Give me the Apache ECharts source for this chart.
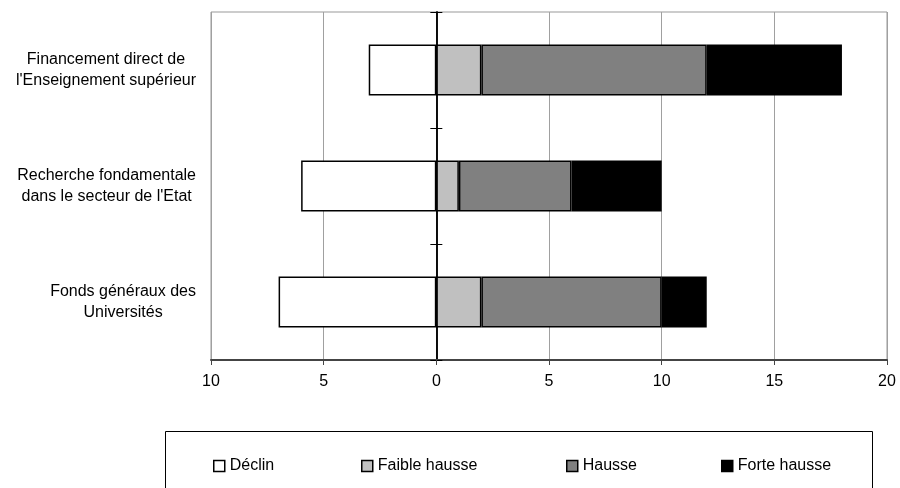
<!DOCTYPE html>
<html>
<head>
<meta charset="UTF-8">
<title>Evolution des financements</title>
<style type="text/css">
  html, body { margin: 0; padding: 0; background: #fff; }
  #chart { width: 900px; height: 488px; }
</style>
</head>
<body>
<div id="chart"></div>
<script src="https://cdn.jsdelivr.net/npm/echarts@6/dist/echarts.min.js"></script>
<script type="text/javascript">
// categories, listed from top to bottom
var categories = [
  "Financement direct de\nl'Enseignement supérieur",
  "Recherche fondamentale\ndans le secteur de l'Etat",
  "Fonds généraux des\nUniversités"
];
// values (déclin counted to the left of 0)
var declin = [-3, -6, -7];
var faibleHausse = [2, 1, 2];
var hausse = [10, 5, 8];
var forteHausse = [6, 4, 2];

var seriesNames = ['Déclin', 'Faible hausse', 'Hausse', 'Forte hausse'];
var seriesColors = ['#ffffff', '#c0c0c0', '#808080', '#000000'];
var seriesData = [declin, faibleHausse, hausse, forteHausse];
var legendLeft = [208, 356, 561, 716];

var FONT = "'Liberation Sans', Arial, sans-serif";

var chart = echarts.init(document.getElementById('chart'));

var series = [];
var legends = [];
for (var i = 0; i < seriesNames.length; i++) {
  series.push({
    name: seriesNames[i],
    type: 'bar',
    stack: 'total',
    yAxisIndex: 0,
    barWidth: 51,
    itemStyle: {
      color: seriesColors[i],
      borderColor: '#000',
      borderWidth: 1.5
    },
    data: seriesData[i]
  });
  // one legend per item so each one sits where it does in the picture
  legends.push({
    data: [seriesNames[i]],
    left: legendLeft[i],
    top: 453,
    icon: 'rect',
    itemWidth: 11,
    itemHeight: 11,
    itemStyle: { borderColor: '#000', borderWidth: 1.5 },
    textStyle: { fontFamily: FONT, fontSize: 16, color: '#000' },
    selectedMode: false
  });
}

// axis line at zero with ticks on both sides
function zeroAxis(pos) {
  return {
    type: 'category',
    data: categories,
    inverse: true,
    position: pos,
    axisLine: { show: true, onZero: true, onZeroAxisIndex: 0, lineStyle: { color: '#000', width: 1.5 } },
    axisTick: { show: true, length: 6, lineStyle: { color: '#000', width: 1 } },
    axisLabel: { show: false },
    splitLine: { show: false }
  };
}

var option = {
  backgroundColor: '#fff',
  animation: false,
  grid: {
    left: 211,
    right: 13,
    top: 12,
    bottom: 128,
    show: true,
    borderColor: '#999',
    borderWidth: 1
  },
  legend: legends,
  xAxis: {
    type: 'value',
    min: -10,
    max: 20,
    interval: 5,
    axisLine: { show: true, onZero: false, lineStyle: { color: '#444', width: 2 } },
    axisTick: { show: true, length: 5, lineStyle: { color: '#444' } },
    axisLabel: {
      margin: 14,
      fontFamily: FONT,
      fontSize: 16,
      color: '#000',
      formatter: function (v) { return Math.abs(v); }
    },
    splitLine: { show: true, lineStyle: { color: '#a0a0a0', width: 1 } }
  },
  yAxis: [{
    type: 'category',
    data: categories,
    inverse: true,
    position: 'left',
    axisLine: { show: false, onZero: false },
    axisTick: { show: false },
    axisLabel: {
      margin: 15,
      align: 'right',
      fontFamily: FONT,
      fontSize: 16,
      lineHeight: 21,
      color: '#000',
      formatter: function (v) {
        return v.split('\n').map(function (s) { return '{c|' + s + '}'; }).join('\n');
      },
      rich: {
        c: { align: 'center', fontFamily: FONT, fontSize: 16, lineHeight: 21, color: '#000' }
      }
    },
    splitLine: { show: false }
  }, zeroAxis('left'), zeroAxis('right')],
  graphic: [{
    type: 'rect',
    shape: { x: 165.5, y: 431.5, width: 707, height: 80 },
    style: { fill: 'none', stroke: '#000', lineWidth: 1 },
    silent: true
  }],
  series: series
};

chart.setOption(option);
window.addEventListener('resize', function () {
  chart.resize();
});
</script>
</body>
</html>
